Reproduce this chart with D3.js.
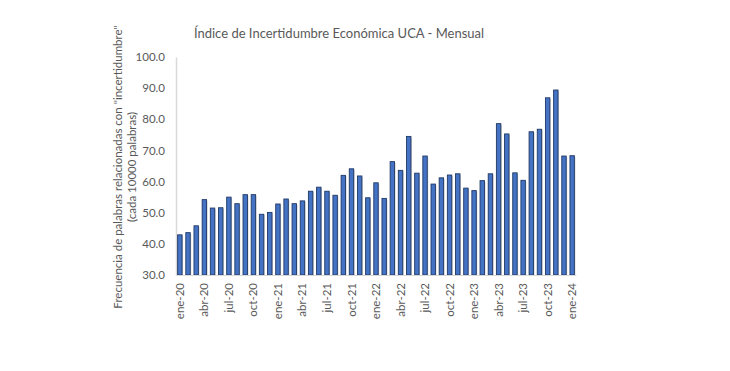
<!DOCTYPE html>
<html>
<head>
<meta charset="utf-8">
<script src="https://cdn.jsdelivr.net/npm/d3@7"></script>
<style>
  body { margin: 0; background: #fff; }
  text { font-family: Lato, "Open Sans", sans-serif; fill: #595959; }
</style>
</head>
<body>
<svg width="730" height="371"></svg>
<script>
// monthly index, ene-20 .. ene-24
var months = ["ene","feb","mar","abr","may","jun","jul","ago","sep","oct","nov","dic"];
var years = ["20","21","22","23","24"];
var values = [
  42.9, 43.6, 45.8, 54.2, 51.5, 51.6, 55.0, 52.9, 55.8, 55.8, 49.5, 50.1,
  52.8, 54.4, 52.9, 53.8, 56.9, 58.2, 56.9, 55.6, 62.0, 64.1, 61.8, 54.8,
  59.6, 54.6, 66.4, 63.6, 74.5, 62.7, 68.2, 59.2, 61.2, 62.1, 62.5, 57.9,
  57.1, 60.3, 62.5, 78.6, 75.3, 62.8, 60.4, 76.0, 76.8, 86.9, 89.4, 68.2,
  68.3
];
var yTicks = [30, 40, 50, 60, 70, 80, 90, 100];

var labels = values.map(function(v, i) {
  return months[i % 12] + "-" + years[Math.floor(i / 12)];
});

var svg = d3.select("svg");

var x = d3.scaleBand()
  .domain(labels)
  .range([176, 576])
  .paddingInner(0.46)
  .paddingOuter(0.2);

var y = d3.scaleLinear()
  .domain([30, 100])
  .range([275, 57]);

// title
svg.append("text")
  .attr("x", 339)
  .attr("y", 38)
  .attr("text-anchor", "middle")
  .style("font-size", "13px")
  .text("Índice de Incertidumbre Económica UCA - Mensual");

// y axis
var yAxis = svg.append("g")
  .attr("transform", "translate(176,0)")
  .call(d3.axisLeft(y).tickValues(yTicks).tickSize(0).tickPadding(11)
    .tickFormat(d3.format(".1f")));
yAxis.select(".domain").attr("stroke", "#d9d9d9").attr("stroke-width", 1.5);
yAxis.selectAll("text").style("font-size", "11.5px").style("font-family", "Lato, sans-serif").attr("fill", "#595959");

// bars (shadow + bar)
svg.append("g").selectAll("rect").data(values).enter().append("rect")
  .attr("x", function(d, i) { return x(labels[i]) + 1; })
  .attr("y", function(d) { return y(d) + 1; })
  .attr("width", x.bandwidth())
  .attr("height", function(d) { return y(30) - y(d) - 1; })
  .attr("fill", "#bfbfbf")
  .attr("opacity", 0.8);

svg.append("g").selectAll("rect").data(values).enter().append("rect")
  .attr("x", function(d, i) { return x(labels[i]); })
  .attr("y", function(d) { return y(d); })
  .attr("width", x.bandwidth())
  .attr("height", function(d) { return y(30) - y(d); })
  .attr("fill", "#4472c4")
  .attr("stroke", "#1f3864")
  .attr("stroke-width", 0.9);

// x axis
var xAxis = svg.append("g")
  .attr("transform", "translate(0,275)")
  .call(d3.axisBottom(x).tickValues(labels.filter(function(d, i) { return i % 3 == 0; }))
    .tickSize(0).tickPadding(0));
xAxis.select(".domain").attr("stroke", "#d9d9d9").attr("stroke-width", 1.2);
xAxis.selectAll("text")
  .attr("transform", "rotate(-90)")
  .attr("text-anchor", "end")
  .attr("x", -8)
  .attr("y", 0)
  .attr("dy", "0.35em")
  .style("font-size", "11.5px")
  .style("font-family", "Lato, sans-serif")
  .attr("fill", "#595959");

// y axis title
var yt = svg.append("text")
  .attr("transform", "translate(122,167) rotate(-90)")
  .attr("text-anchor", "middle")
  .style("font-size", "11.5px");
yt.append("tspan").attr("x", 0).attr("dy", "0").text("Frecuencia de palabras relacionadas con \"incertidumbre\"");
yt.append("tspan").attr("x", 0).attr("dy", "14").text("(cada 10000 palabras)");
</script>
</body>
</html>
